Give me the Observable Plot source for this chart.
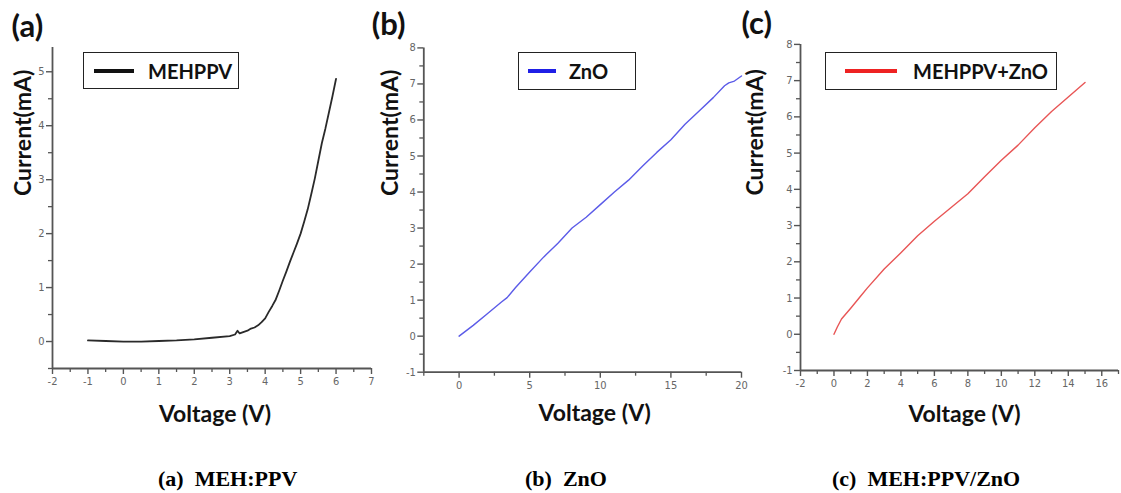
<!DOCTYPE html>
<html><head><meta charset="utf-8">
<script src="https://cdn.jsdelivr.net/npm/d3@7"></script>
<script src="https://cdn.jsdelivr.net/npm/@observablehq/plot@0.6"></script>
<style>
body{margin:0;background:#fff;}
#wrap{position:relative;width:1121px;height:493px;overflow:hidden;background:#fff;}
#wrap svg{position:absolute;left:0;top:0;}
.legend{position:absolute;border:1.5px solid #222;box-sizing:border-box;background:#fff;font:700 20px Lato,sans-serif;color:#111;}
.legend .sw{position:absolute;height:4px;top:50%;margin-top:-2px;}
.legend .lb{position:absolute;top:50%;transform:translateY(-50%);line-height:1;}
.cap{position:absolute;font:700 22px "Liberation Serif","Times New Roman",serif;white-space:pre;line-height:22px;color:#000;}
</style></head><body><div id="wrap"></div>
<script>
// ---- data ----
const voltageA = [-1,-0.5,0,0.5,1,1.5,2,2.5,3,3.15,3.22,3.28,3.4,3.5,3.6,3.7,3.8,3.9,4.0,4.1,4.2,4.3,4.4,4.5,4.6,4.7,4.8,4.9,5.0,5.1,5.2,5.3,5.4,5.5,5.6,5.7,5.8,5.9,6.0];
const currentA = [0.02,0.01,0,0,0.01,0.02,0.04,0.07,0.1,0.13,0.2,0.15,0.18,0.2,0.24,0.26,0.3,0.36,0.43,0.55,0.66,0.78,0.95,1.13,1.3,1.48,1.65,1.82,2.0,2.22,2.45,2.73,3.02,3.35,3.68,3.95,4.25,4.55,4.87];
const voltageB = [0,1,2,3,3.4,4,5,6,7,8,9,10,11,12,13,14,15,16,17,18,18.8,19.1,19.5,20];
const currentB = [0,0.3,0.62,0.95,1.07,1.35,1.78,2.2,2.58,3.0,3.3,3.65,4.0,4.33,4.72,5.1,5.45,5.88,6.25,6.62,6.95,7.03,7.08,7.22];
const voltageC = [0,0.2,0.45,1,1.55,2,3,4,5,6,7,8,9,10,11,12,13,14,15];
const currentC = [0,0.2,0.42,0.72,1.03,1.28,1.8,2.25,2.72,3.12,3.5,3.88,4.35,4.8,5.22,5.7,6.15,6.55,6.95];

const xTicksA = [-2,-1,0,1,2,3,4,5,6,7];
const xMinorA = [-1.5,-0.5,0.5,1.5,2.5,3.5,4.5,5.5,6.5];
const yTicksA = [0,1,2,3,4,5];
const yMinorA = [-0.5,0.5,1.5,2.5,3.5,4.5];
const xTicksB = [0,5,10,15,20];
const xMinorB = [-2.5,2.5,7.5,12.5,17.5];
const yTicksB = [-1,0,1,2,3,4,5,6,7,8];
const yMinorB = [-0.5,0.5,1.5,2.5,3.5,4.5,5.5,6.5,7.5];
const xTicksC = [-2,0,2,4,6,8,10,12,14,16];
const xMinorC = [-1,1,3,5,7,9,11,13,15,17];
const yTicksC = [-1,0,1,2,3,4,5,6,7,8];
const yMinorC = [-0.5,0.5,1.5,2.5,3.5,4.5,5.5,6.5,7.5];

const panelLabels = ["(a)","(b)","(c)"];
const seriesNames = ["MEHPPV","ZnO","MEHPPV+ZnO"];
const captions = ["(a)  MEH:PPV","(b)  ZnO","(c)  MEH:PPV/ZnO"];
const xTitle = "Voltage (V)";
const yTitle = "Current(mA)";

// ---- layout ----
const W = 1121, H = 440;
const panels = [
  {v:voltageA, c:currentA, xd:[-2,7], yd:[-0.5,5.45], xt:xTicksA, xm:xMinorA, yt:yTicksA, ym:yMinorA,
   left:52, right:371, top:47, bottom:368, color:"#2a2a2a", sw:1.8, lineColor:"#111",
   yTdx:-29, yTdy:-12, xTdx:3, xTdy:53, lab:panelLabels[0], labDx:-41, labDy:-11,
   name:seriesNames[0], leg:{l:83,t:52,w:156,h:37,sl:10,sw:40,tl:64}, cap:{text:captions[0], l:158}},
  {v:voltageB, c:currentB, xd:[-2.5,20], yd:[-1,8], xt:xTicksB, xm:xMinorB, yt:yTicksB, ym:yMinorB,
   left:423.3, right:741, top:47.4, bottom:371.7, color:"#5b5be8", sw:1.4, lineColor:"#1f1fe6",
   yTdx:-33, yTdy:-14, xTdx:12, xTdy:49, lab:panelLabels[1], labDx:-52, labDy:-13,
   name:seriesNames[1], leg:{l:518,t:52,w:118,h:38,sl:9,sw:28,tl:50}, cap:{text:captions[1], l:525}},
  {v:voltageC, c:currentC, xd:[-2,17], yd:[-1,8], xt:xTicksC, xm:xMinorC, yt:yTicksC, ym:yMinorC,
   left:800, right:1118, top:43.9, bottom:370, color:"#e85555", sw:1.4, lineColor:"#ee2222",
   yTdx:-45, yTdy:-12, xTdx:5, xTdy:51, lab:panelLabels[2], labDx:-59, labDy:-10,
   name:seriesNames[2], leg:{l:825,t:52,w:232,h:38,sl:19,sw:52,tl:87}, cap:{text:captions[2], l:832}}
];

const tickFont = "'Liberation Sans Narrow','DejaVu Sans Condensed',sans-serif";
const axisColor = "#555";

const wrap = document.getElementById("wrap");

for (const p of panels) {
  const data = p.v.map((v, i) => ({v, c: p.c[i]}));
  const chart = Plot.plot({
    width: W, height: H,
    marginLeft: p.left, marginRight: W - p.right, marginTop: p.top, marginBottom: H - p.bottom,
    style: {background: "transparent", overflow: "visible"},
    x: {domain: p.xd, label: null},
    y: {domain: p.yd, label: null},
    marks: [
      Plot.axisX({ticks: p.xm, tickSize: 4, tickFormat: () => "", stroke: axisColor, strokeWidth: 1.3}),
      Plot.axisX({ticks: p.xt, tickSize: 6, tickPadding: 3, tickFormat: d => String(d), stroke: axisColor, fill: "#666", strokeWidth: 1.4, fontSize: 11, fontFamily: tickFont}),
      Plot.axisY({ticks: p.ym, tickSize: 4, tickFormat: () => "", stroke: axisColor, strokeWidth: 1.3}),
      Plot.axisY({ticks: p.yt, tickSize: 6, tickPadding: 2, tickFormat: d => String(d), stroke: axisColor, fill: "#666", strokeWidth: 1.4, fontSize: 11, fontFamily: tickFont}),
      Plot.ruleX([p.xd[0]], {stroke: axisColor, strokeWidth: 1.8}),
      Plot.ruleY([p.yd[0]], {stroke: axisColor, strokeWidth: 1.8}),
      Plot.line(data, {x: "v", y: "c", stroke: p.color, strokeWidth: p.sw}),
      Plot.text([xTitle], {text: d => d, frameAnchor: "bottom", lineAnchor: "bottom", dx: p.xTdx, dy: p.xTdy, fontSize: 23, fontWeight: 700, fontFamily: "Lato, sans-serif", fill: "#111"}),
      Plot.text([yTitle], {text: d => d, frameAnchor: "left", rotate: -90, dx: p.yTdx, dy: p.yTdy, fontSize: 23, fontWeight: 700, fontFamily: "Lato, sans-serif", fill: "#111"}),
      Plot.text([p.lab], {text: d => d, frameAnchor: "top-left", textAnchor: "start", lineAnchor: "bottom", dx: p.labDx, dy: p.labDy, fontSize: 31, fontWeight: 700, fontFamily: "Lato, sans-serif", fill: "#111"})
    ]
  });
  wrap.appendChild(chart);

  const lg = document.createElement("div");
  lg.className = "legend";
  Object.assign(lg.style, {left: p.leg.l + "px", top: p.leg.t + "px", width: p.leg.w + "px", height: p.leg.h + "px"});
  const sw = document.createElement("div");
  sw.className = "sw";
  Object.assign(sw.style, {left: p.leg.sl + "px", width: p.leg.sw + "px", background: p.lineColor});
  const lb = document.createElement("div");
  lb.className = "lb";
  lb.style.left = p.leg.tl + "px";
  lb.textContent = p.name;
  lg.appendChild(sw); lg.appendChild(lb);
  wrap.appendChild(lg);

  const cap = document.createElement("div");
  cap.className = "cap";
  cap.style.left = p.cap.l + "px";
  cap.style.top = "468px";
  cap.textContent = p.cap.text;
  wrap.appendChild(cap);
}
</script></body></html>
